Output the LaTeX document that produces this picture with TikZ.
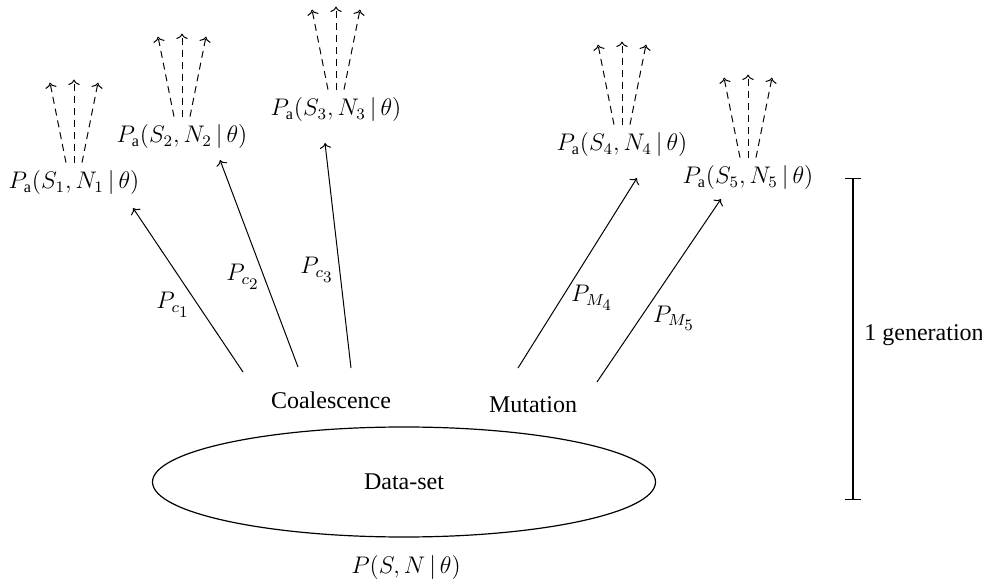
\documentclass[tikz,border=0pt]{standalone}
\usepackage{fontspec}
\setmainfont{Liberation Serif}
\usetikzlibrary{arrows.meta, shapes.geometric}

\begin{document}
\begin{tikzpicture}[
  x=0.5pt, y=-0.5pt,
  txt/.style={font=\fontsize{12}{14}\selectfont, inner sep=2pt},
  mlbl/.style={font=\fontsize{11.5}{13}\selectfont, inner sep=4pt},
  setb/.style={draw, ellipse, line width=0.6pt, minimum width=251.5pt, minimum height=55pt,
               font=\fontsize{12}{14}\selectfont},
  arr/.style={->, >=To, line width=0.5pt},
  fan/.style={->, >=To, line width=0.5pt, dash pattern=on 3.5pt off 2.5pt},
  genbar/.style={{Bar[width=8pt]}-{Bar[width=8pt]}, line width=0.6pt},
]
\useasboundingbox (0,0) rectangle (982,583);

% Data-set and its likelihood
\node[setb] (data) at (404,482) {Data-set};
\node[mlbl] (joint) at (406,568) {$P(S,N\,|\,\theta)$};

% Events
\node[txt] (coal) at (331,400) {Coalescence};
\node[txt] (mut)  at (533,405) {Mutation};

% Ancestral states
\node[mlbl] (pa1) at (74,183)  {$P_{\mathrm{a}}(S_1,N_1\,|\,\theta)$};
\node[mlbl] (pa2) at (182,137) {$P_{\mathrm{a}}(S_2,N_2\,|\,\theta)$};
\node[mlbl] (pa3) at (336,110) {$P_{\mathrm{a}}(S_3,N_3\,|\,\theta)$};
\node[mlbl] (pa4) at (622,145) {$P_{\mathrm{a}}(S_4,N_4\,|\,\theta)$};
\node[mlbl] (pa5) at (748,178) {$P_{\mathrm{a}}(S_5,N_5\,|\,\theta)$};

% Arrow ends
\coordinate (c1) at (243,372);
\coordinate (c2) at (298,367);
\coordinate (c3) at (351,368);
\coordinate (m4) at (518,368);
\coordinate (m5) at (597,382);
\coordinate (t1) at (133,208);
\coordinate (t2) at (220,160);
\coordinate (t3) at (325,143);
\coordinate (t4) at (637,178);
\coordinate (t5) at (721,199);

% Arrows: events -> ancestral states
\draw[arr] (c1) -- (t1);
\draw[arr] (c2) -- (t2);
\draw[arr] (c3) -- (t3);
\draw[arr] (m4) -- (t4);
\draw[arr] (m5) -- (t5);

% Rates
\node[mlbl] (lc1) at (173,305) {$P_{c_{\scriptstyle 1}}$};
\node[mlbl] (lc2) at (243,277) {$P_{c_{\scriptstyle 2}}$};
\node[mlbl] (lc3) at (317,270) {$P_{c_{\scriptstyle 3}}$};
\node[mlbl] (lm4) at (592,298) {$P_{M_{\scriptstyle 4}}$};
\node[mlbl] (lm5) at (674,318) {$P_{M_{\scriptstyle 5}}$};

% Further generations (dashed)
\foreach \n in {1,...,5}{
  \draw[fan] ([xshift=-4pt]pa\n.north) -- ++(-8pt,40pt);
  \draw[fan] (pa\n.north) -- ++(0,41.5pt);
  \draw[fan] ([xshift=4pt]pa\n.north) -- ++(8pt,40pt);
}

% One generation
\coordinate (g1) at (853,178);
\coordinate (g2) at (853,500);
\draw[genbar] (g1) -- (g2);
\node[txt, anchor=west] (gen) at (860,335) {1 generation};

\end{tikzpicture}
\end{document}
